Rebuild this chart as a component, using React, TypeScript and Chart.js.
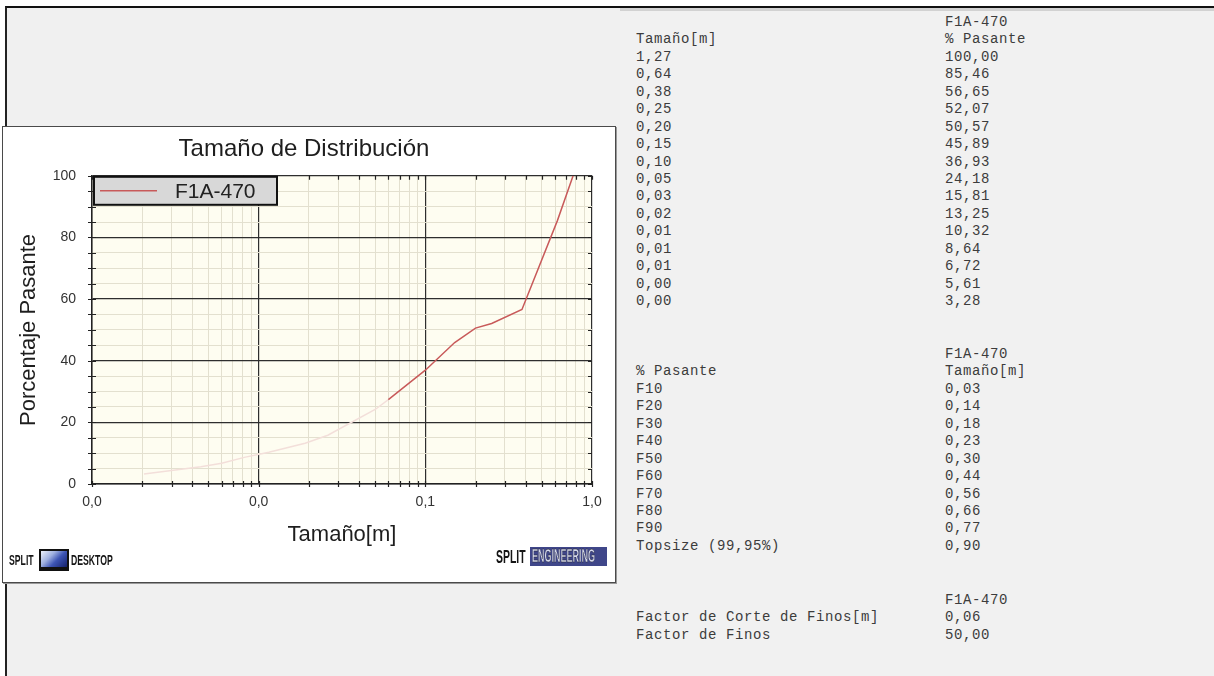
import React, { useEffect, useRef } from 'react';
import { Chart, registerables } from 'chart.js';

Chart.register(...registerables);

// ---------- chart data ----------
const seriesName = 'F1A-470';
const chartTitle = 'Tamaño de Distribución';
const xAxisTitle = 'Tamaño[m]';
const yAxisTitle = 'Porcentaje Pasante';
const chartSizes = [0.00205, 0.0045, 0.006, 0.0082, 0.0115, 0.019, 0.026, 0.05, 0.06, 0.1, 0.15, 0.2, 0.25, 0.38, 0.62, 0.77];
const chartPassing = [3.28, 5.61, 6.72, 8.64, 10.32, 13.25, 15.81, 24.18, 27.4, 36.93, 45.89, 50.57, 52.07, 56.65, 85.46, 100];
const finesCutoff = 0.06;
const xDecades = [0.001, 0.01, 0.1, 1];
const xMinorMultipliers = [2, 3, 4, 5, 6, 7, 8, 9];
const yMin = 0;
const yMax = 100;
const yTickStep = 5;
const yLabelStep = 20;

// ---------- table data ----------
const tableSeries = 'F1A-470';
const tableSizes = ['1,27', '0,64', '0,38', '0,25', '0,20', '0,15', '0,10', '0,05', '0,03', '0,02', '0,01', '0,01', '0,01', '0,00', '0,00'];
const tablePassing = ['100,00', '85,46', '56,65', '52,07', '50,57', '45,89', '36,93', '24,18', '15,81', '13,25', '10,32', '8,64', '6,72', '5,61', '3,28'];
const percentileLabels = ['F10', 'F20', 'F30', 'F40', 'F50', 'F60', 'F70', 'F80', 'F90', 'Topsize (99,95%)'];
const percentileSizes = ['0,03', '0,14', '0,18', '0,23', '0,30', '0,44', '0,56', '0,66', '0,77', '0,90'];
const finesLabels = ['Factor de Corte de Finos[m]', 'Factor de Finos'];
const finesValues = ['0,06', '50,00'];

const RED = '#c85a5a';
const FAINT = '#f3dfda';
const MAJOR = '#2e2e2e';
const MINOR = '#e3e0cf';
const FONT = '"Liberation Sans", Arial, sans-serif';

const isDecade = (v: number) => Math.abs(Math.log10(v) - Math.round(Math.log10(v))) < 1e-9;

const xTickValues: number[] = [];
xDecades.forEach((d, i) => {
  xTickValues.push(d);
  if (i < xDecades.length - 1) xMinorMultipliers.forEach((m) => xTickValues.push(Number((m * d).toPrecision(3))));
});

const bgPlugin = {
  id: 'plotBg',
  beforeDraw(chart: any) {
    const { ctx, chartArea: a } = chart;
    ctx.save();
    ctx.fillStyle = '#fefdf1';
    ctx.fillRect(a.left, a.top, a.right - a.left, a.bottom - a.top);
    ctx.restore();
  },
};

const tickMarksPlugin = {
  id: 'tickMarks',
  afterDraw(chart: any) {
    const { ctx, chartArea: a, scales } = chart;
    ctx.save();
    ctx.strokeStyle = '#222';
    ctx.lineWidth = 1.2;
    ctx.beginPath();
    scales.x.ticks.forEach((t: any) => {
      const px = Math.round(scales.x.getPixelForValue(t.value)) + 0.5;
      ctx.moveTo(px, a.bottom - 3);
      ctx.lineTo(px, a.bottom + 3);
      ctx.moveTo(px, a.top);
      ctx.lineTo(px, a.top + 4);
    });
    scales.y.ticks.forEach((t: any) => {
      const py = Math.round(scales.y.getPixelForValue(t.value)) + 0.5;
      ctx.moveTo(a.left - 4, py);
      ctx.lineTo(a.left + 4, py);
      ctx.moveTo(a.right - 4, py);
      ctx.lineTo(a.right, py);
    });
    ctx.stroke();
    ctx.restore();
  },
};

const legendPlugin = {
  id: 'boxLegend',
  afterDraw(chart: any) {
    const { ctx, chartArea: a } = chart;
    const ds = chart.data.datasets[0];
    const x = a.left + 2;
    const y = a.top + 1;
    const w = 183;
    const h = 28;
    ctx.save();
    ctx.fillStyle = '#d8d8d8';
    ctx.fillRect(x, y, w, h);
    ctx.strokeStyle = '#111';
    ctx.lineWidth = 2;
    ctx.strokeRect(x, y, w, h);
    ctx.strokeStyle = RED;
    ctx.lineWidth = 1.5;
    ctx.beginPath();
    ctx.moveTo(x + 6, y + h / 2);
    ctx.lineTo(x + 63, y + h / 2);
    ctx.stroke();
    ctx.fillStyle = '#222';
    ctx.font = `21px ${FONT}`;
    ctx.textBaseline = 'middle';
    ctx.fillText(ds.label, x + 81, y + h / 2 + 1);
    ctx.restore();
  },
};

function DistributionChart() {
  const ref = useRef<HTMLCanvasElement | null>(null);
  useEffect(() => {
    if (!ref.current) return;
    const chart = new Chart(ref.current, {
      type: 'line',
      data: {
        datasets: [
          {
            label: seriesName,
            data: chartSizes.map((s, i) => ({ x: s, y: chartPassing[i] })),
            borderColor: RED,
            borderWidth: 1.5,
            pointRadius: 0,
            tension: 0,
            fill: false,
            segment: {
              borderColor: (c: any) => (c.p0.parsed.x < finesCutoff ? FAINT : RED),
            },
          },
        ],
      },
      options: {
        animation: false,
        responsive: false,
        maintainAspectRatio: false,
        layout: { padding: { left: 13, right: 21, top: 8, bottom: 32 } },
        plugins: {
          legend: { display: false },
          tooltip: { enabled: false },
          title: {
            display: true,
            text: chartTitle,
            color: '#1e1e1e',
            font: { family: FONT, size: 24, weight: 'normal' },
            padding: { top: 0, bottom: 12 },
          },
        },
        scales: {
          x: {
            type: 'logarithmic',
            min: xDecades[0],
            max: xDecades[xDecades.length - 1],
            afterBuildTicks: (scale: any) => {
              scale.ticks = xTickValues.map((v) => ({ value: v }));
            },
            afterFit: (scale: any) => {
              scale.height = 64;
            },
            ticks: {
              autoSkip: false,
              maxRotation: 0,
              padding: 10,
              color: '#333',
              font: { family: FONT, size: 14 },
              callback: (v: any) => (isDecade(Number(v)) ? Number(v).toFixed(1).replace('.', ',') : ''),
            },
            grid: {
              drawTicks: false,
              color: (c: any) => (c.tick && isDecade(c.tick.value) ? MAJOR : MINOR),
              lineWidth: (c: any) => (c.tick && isDecade(c.tick.value) ? 1.2 : 1),
            },
            border: { display: true, color: '#222', width: 1.5 },
            title: {
              display: true,
              text: xAxisTitle,
              color: '#1e1e1e',
              font: { family: FONT, size: 22 },
              padding: { top: 0, bottom: 0 },
            },
          },
          y: {
            type: 'linear',
            min: yMin,
            max: yMax,
            afterFit: (scale: any) => {
              scale.width = 76;
            },
            ticks: {
              stepSize: yTickStep,
              autoSkip: false,
              padding: 16,
              color: '#333',
              font: { family: FONT, size: 14 },
              callback: (v: any) => (Number(v) % yLabelStep === 0 ? String(v) : ''),
            },
            grid: {
              drawTicks: false,
              color: (c: any) => (c.tick && c.tick.value % yLabelStep === 0 ? MAJOR : MINOR),
              lineWidth: (c: any) => (c.tick && c.tick.value % yLabelStep === 0 ? 1.2 : 1),
            },
            border: { display: true, color: '#222', width: 1.5 },
            title: {
              display: true,
              text: yAxisTitle,
              color: '#1e1e1e',
              font: { family: FONT, size: 22 },
              padding: { top: 0, bottom: 0 },
            },
          },
        },
      } as any,
      plugins: [bgPlugin, tickMarksPlugin, legendPlugin],
    });
    return () => chart.destroy();
  }, []);
  return <canvas ref={ref} width={610} height={453} style={{ display: 'block', width: 610, height: 453 }} />;
}

const mono: React.CSSProperties = {
  fontFamily: '"Liberation Mono", "Courier New", monospace',
  fontSize: 14,
  letterSpacing: 0.6,
  color: '#3c3c3c',
  lineHeight: '17.45px',
  whiteSpace: 'pre',
};

function Section({ top, rows }: { top: number; rows: [string, string][] }) {
  return (
    <div style={{ position: 'absolute', left: 636, top, ...mono }}>
      {rows.map((r, i) => (
        <div key={i} style={{ position: 'relative', height: 17.45 }}>
          <span style={{ position: 'absolute', left: 0 }}>{r[0]}</span>
          <span style={{ position: 'absolute', left: 309 }}>{r[1]}</span>
        </div>
      ))}
    </div>
  );
}

function Condensed({ children, scale, style }: { children: React.ReactNode; scale: number; style?: React.CSSProperties }) {
  return (
    <span style={{ display: 'inline-block', transform: `scaleX(${scale})`, transformOrigin: 'left center', ...style }}>{children}</span>
  );
}

export default function App() {
  useEffect(() => {
    document.body.style.margin = '0';
  }, []);
  const s1: [string, string][] = [['', tableSeries], ['Tamaño[m]', '% Pasante'], ...tableSizes.map((s, i) => [s, tablePassing[i]] as [string, string])];
  const s2: [string, string][] = [['', tableSeries], ['% Pasante', 'Tamaño[m]'], ...percentileLabels.map((l, i) => [l, percentileSizes[i]] as [string, string])];
  const s3: [string, string][] = [['', tableSeries], ...finesLabels.map((l, i) => [l, finesValues[i]] as [string, string])];
  return (
    <div style={{ position: 'absolute', left: 0, top: 0, width: 1214, height: 676, overflow: 'hidden', background: '#fff' }}>
      {/* left panel */}
      <div style={{ position: 'absolute', left: 5, top: 6, width: 615, height: 670, background: '#f0f0f0', borderTop: '2px solid #111', borderLeft: '2px solid #222' }} />
      {/* right panel */}
      <div style={{ position: 'absolute', left: 620, top: 6, width: 594, height: 670, background: '#f1f1f1', borderTop: '2px solid #111' }}>
        <div style={{ position: 'absolute', left: 0, top: 0, right: 0, height: 3, background: '#d2d2d2' }} />
      </div>
      <Section top={14} rows={s1} />
      <Section top={346} rows={s2} />
      <Section top={592} rows={s3} />
      {/* chart box */}
      <div style={{ position: 'absolute', left: 2, top: 126, width: 612, height: 455, background: '#fff', border: '1px solid #4a4a4a', boxShadow: '1px 1px 0 #999' }}>
        <DistributionChart />
      </div>
      {/* logos */}
      <div style={{ position: 'absolute', left: 9, top: 549, height: 22, display: 'flex', alignItems: 'center', fontFamily: FONT, fontWeight: 700, fontSize: 14, color: '#151515' }}>
        <span style={{ width: 30, overflow: 'visible' }}>
          <Condensed scale={0.62}>SPLIT</Condensed>
        </span>
        <span style={{ display: 'inline-block', width: 26, height: 16, marginRight: 2, border: '2px solid #111', borderBottomWidth: 4, background: 'linear-gradient(135deg, #eef2fb 0%, #9fb0e0 35%, #3d55b5 60%, #14206a 100%)' }} />
        <span style={{ width: 42 }}>
          <Condensed scale={0.62}>DESKTOP</Condensed>
        </span>
      </div>
      <div style={{ position: 'absolute', left: 496, top: 547, height: 24, display: 'flex', alignItems: 'flex-start', fontFamily: FONT, fontWeight: 700, color: '#151515' }}>
        <span style={{ width: 34, fontSize: 19, lineHeight: '19px' }}>
          <Condensed scale={0.55}>SPLIT</Condensed>
        </span>
        <span style={{ display: 'inline-block', width: 77, height: 19, background: '#3f4689', color: '#d4d8ee', fontSize: 18, lineHeight: '19px', overflow: 'hidden', WebkitTextStroke: '0.4px #222' }}>
          <Condensed scale={0.5} style={{ marginLeft: 2 }}>ENGINEERING</Condensed>
        </span>
      </div>
    </div>
  );
}
